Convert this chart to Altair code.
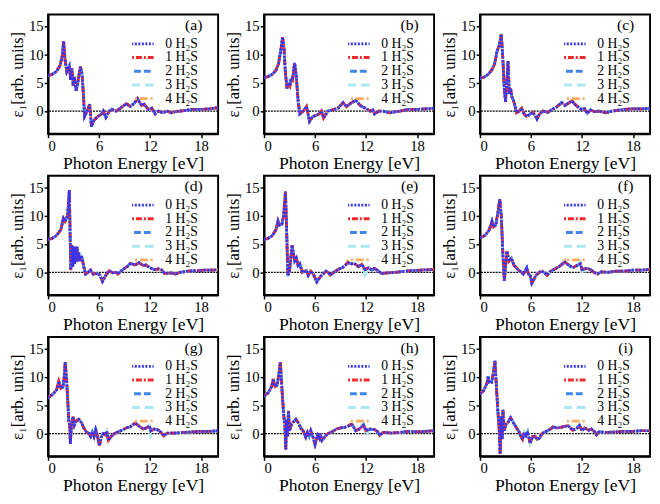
import altair as alt
import pandas as pd

SERIES = ["0 H₂S", "1 H₂S", "2 H₂S", "3 H₂S", "4 H₂S"]
COLORS = ["#3434f2", "#f42a2a", "#3f86e8", "#a9e7f2", "#ffab5e"]
DASHES = [[2, 1.6], [6, 2, 2, 2], [7, 3], [16, 5], [8, 3, 2, 3]]
LABELS = ["(a)", "(b)", "(c)", "(d)", "(e)", "(f)", "(g)", "(h)", "(i)"]
X_TICKS = [0, 6, 12, 18]
Y_TICKS = [0, 5, 10, 15]

E_A = [0, 0.5, 1.0, 1.4, 1.65, 1.83, 2.0, 2.2, 2.35, 2.5, 2.65, 2.8, 2.95, 3.1, 3.3, 3.5, 3.65, 3.8, 4.0, 4.15,
       4.3, 4.6, 4.9, 5.1, 5.4, 5.8, 6.3, 6.5, 6.8, 7.2, 7.5, 8.0, 8.5, 9.2, 9.7, 10.2, 10.5, 11.0, 11.3, 11.8,
       12.2, 12.6, 13.0, 13.5, 14.0, 14.5, 15.0, 16.0, 17.0, 18.0, 19.0, 20.0]
Y_A = [6.25, 6.5, 7.0, 8.0, 9.5, 12.3, 9.0, 7.0, 7.5, 8.0, 5.5, 7.5, 4.5, 6.0, 3.6, 5.0, 6.5, 7.8, 6.5, 3.0,
       -0.9, 0.0, 1.2, -2.7, -1.6, -1.0, -0.5, 0.0, -1.1, 0.0, 0.3, 0.0, 0.5, 1.3, 0.8, 1.5, 2.2, 1.0, 1.2, 0.3,
       0.5, -0.5, 0.0, -0.3, 0.0, -0.3, -0.1, 0.1, 0.3, 0.3, 0.4, 0.6]

E_B = [0, 0.5, 1.0, 1.4, 1.7, 1.95, 2.18, 2.35, 2.5, 2.7, 2.9, 3.05, 3.2, 3.35, 3.6, 3.8, 4.0, 4.2, 4.6, 5.0,
       5.35, 5.7, 6.0, 6.5, 6.75, 7.0, 7.5, 8.0, 8.7, 9.3, 9.7, 10.3, 10.8, 11.3, 11.8, 12.5, 12.8, 13.0, 13.5, 14.0,
       14.8, 15.5, 16.0, 17.0, 18.0, 19.0, 20.0]
Y_B = [5.9, 6.1, 6.5, 7.2, 8.3, 10.5, 13.0, 11.0, 7.0, 4.0, 5.0, 4.5, 5.8, 5.5, 8.5, 6.0, 2.0, -0.5, 0.0, 0.8,
       -1.8, -1.0, -0.8, -0.5, 0.0, -1.2, 0.0, 0.2, 0.5, 1.5, 0.8, 1.5, 1.9, 1.0, 0.6, 0.0, 0.2, -0.5, 0.0, 0.0,
       -0.3, -0.1, 0.0, 0.3, 0.3, 0.4, 0.5]

E_C = [0, 0.5, 1.0, 1.4, 1.7, 2.0, 2.25, 2.5, 2.7, 2.85, 3.0, 3.15, 3.3, 3.45, 3.6, 3.75, 3.9, 4.1, 4.3, 4.6,
       4.9, 5.2, 5.5, 5.9, 6.2, 6.5, 6.7, 7.0, 7.4, 8.0, 8.5, 9.0, 9.6, 10.0, 10.5, 10.8, 11.3, 11.9, 12.3, 12.6,
       13.0, 13.5, 14.0, 14.8, 15.5, 16.5, 17.0, 18.0, 19.0, 20.0]
Y_C = [5.8, 6.0, 6.5, 7.3, 8.2, 10.5, 11.5, 13.5, 9.0, 4.0, 1.6, 5.0, 8.8, 3.0, 4.0, 2.5, 2.0, 1.0, -0.3, 0.0,
       0.5, -0.5, -1.0, -0.5, -0.2, -0.8, -1.4, -0.5, 0.0, -0.2, 0.3, 0.7, 1.5, 1.0, 1.5, 1.8, 1.0, 0.3, 0.4, -0.4,
       0.2, -0.1, 0.0, -0.3, 0.0, 0.2, 0.3, 0.4, 0.4, 0.5]

E_D = [0, 0.5, 1.0, 1.5, 1.8, 2.0, 2.3, 2.5, 2.67, 2.8, 2.9, 3.0, 3.1, 3.2, 3.3, 3.4, 3.5, 3.6, 3.7, 3.85,
       4.0, 4.2, 4.4, 4.7, 5.0, 5.3, 5.8, 6.1, 6.4, 6.8, 7.2, 7.6, 8.0, 8.2, 8.8, 9.3, 9.7, 10.2, 10.7, 11.2,
       11.5, 12.0, 12.5, 13.0, 13.4, 13.7, 14.5, 15.0, 15.5, 16.5, 17.5, 18.5, 19.5, 20.0]
Y_D = [5.8, 6.0, 6.5, 7.5, 9.5, 9.0, 10.0, 14.5, 0.4, 4.8, 1.0, 4.5, 1.5, 4.5, 1.8, 4.5, 2.0, 3.5, 2.0, 3.0,
       2.5, 1.0, -0.3, 0.0, 0.4, -0.3, -0.2, -0.5, -1.6, -0.5, 0.3, -0.1, 0.0, -0.3, 0.5, 1.0, 1.6, 1.3, 1.7, 1.2,
       1.3, 0.8, 0.5, 0.6, 0.4, -0.2, -0.1, -0.3, 0.0, 0.2, 0.3, 0.4, 0.4, 0.5]

E_E = [0, 0.5, 1.0, 1.4, 1.64, 1.8, 2.1, 2.3, 2.52, 2.65, 2.8, 3.0, 3.3, 3.6, 3.8, 4.0, 4.2, 4.5, 5.0, 5.2,
       5.5, 5.8, 6.2, 6.6, 7.0, 7.3, 7.6, 7.8, 8.2, 8.7, 9.2, 9.6, 9.85, 10.3, 10.6, 11.1, 11.5, 11.9, 12.3, 12.7,
       13.0, 13.4, 13.8, 14.5, 15.5, 16.5, 17.5, 18.5, 20.0]
Y_E = [5.8, 6.0, 6.5, 7.5, 9.0, 8.3, 8.5, 10.0, 14.2, 8.0, -0.5, 0.3, 4.8, 2.0, 2.5, 1.2, 1.5, 0.0, 0.3, -0.5,
       0.2, -0.3, -1.7, -0.8, -0.2, 0.2, -0.1, -0.5, 0.0, 0.5, 0.8, 1.3, 1.7, 1.5, 1.6, 1.0, 1.4, 0.5, 0.8, 0.4,
       0.7, 0.3, -0.2, -0.1, 0.0, 0.2, 0.3, 0.4, 0.5]

E_F = [0, 0.6, 1.1, 1.41, 1.6, 1.85, 2.1, 2.33, 2.5, 2.7, 2.86, 3.0, 3.17, 3.4, 3.7, 4.0, 4.3, 4.6, 4.9, 5.1,
       5.5, 5.7, 5.9, 6.1, 6.6, 7.0, 7.2, 7.6, 7.9, 8.3, 8.8, 9.3, 9.7, 10.0, 10.4, 10.9, 11.4, 11.8, 12.0, 12.5,
       13.0, 13.4, 13.8, 14.3, 15.0, 16.0, 17.0, 18.0, 19.0, 20.0]
Y_F = [6.1, 6.5, 7.5, 9.0, 8.0, 8.3, 10.5, 12.9, 10.0, 3.0, -1.5, 1.0, 3.7, 2.0, 2.5, 1.2, 0.8, 0.3, 0.0, -0.3,
       0.8, -0.3, -0.5, -1.9, -0.5, 0.0, 0.3, -0.1, -0.5, 0.2, 0.6, 1.0, 1.5, 1.8, 1.3, 0.8, 1.2, 1.5, 0.5, 0.7,
       0.5, 0.0, -0.3, 0.1, 0.0, 0.2, 0.2, 0.4, 0.4, 0.5]

E_G = [0, 0.6, 1.0, 1.26, 1.5, 1.75, 1.9, 2.02, 2.2, 2.45, 2.55, 2.62, 2.75, 2.94, 3.1, 3.3, 3.6, 3.9, 4.2, 4.5,
       4.8, 5.0, 5.2, 5.4, 5.6, 5.8, 6.03, 6.3, 6.5, 6.7, 6.9, 7.1, 7.4, 7.8, 8.2, 8.7, 9.2, 9.7, 10.0, 10.3,
       10.8, 11.2, 11.6, 11.9, 12.1, 12.5, 13.0, 13.3, 13.6, 14.0, 15.0, 16.0, 17.0, 18.0, 19.0, 20.0]
Y_G = [6.3, 7.0, 7.7, 9.2, 8.0, 8.2, 10.0, 12.6, 9.0, 2.0, 1.5, -1.8, 1.5, 3.0, 1.5, 2.2, 2.5, 2.0, 1.0, 0.3,
       0.0, -0.5, 0.3, -0.5, 0.7, -0.3, -2.1, -0.5, 0.0, -0.2, 0.4, -1.2, -0.5, 0.0, 0.3, 0.6, 1.0, 1.2, 1.6, 1.8,
       1.2, 0.8, 1.0, 1.4, 0.5, 0.8, 0.6, 0.2, -0.4, 0.1, 0.1, 0.2, 0.3, 0.4, 0.4, 0.5]

E_H = [0, 0.5, 0.9, 1.07, 1.3, 1.55, 1.75, 1.92, 2.1, 2.3, 2.45, 2.56, 2.65, 2.75, 2.88, 3.0, 3.2, 3.4, 3.75, 4.1,
       4.3, 4.6, 4.9, 5.1, 5.3, 5.5, 5.7, 6.0, 6.3, 6.5, 6.6, 6.8, 7.2, 7.5, 8.0, 8.5, 9.0, 9.5, 10.0, 10.25,
       10.4, 10.8, 11.2, 11.7, 12.0, 12.4, 13.0, 13.4, 13.6, 14.0, 15.0, 16.0, 17.0, 18.0, 19.0, 20.0]
Y_H = [6.6, 7.2, 8.3, 9.6, 8.3, 8.5, 10.5, 12.6, 8.0, 3.5, 1.5, -2.8, 2.5, -0.5, 4.0, 0.5, 1.5, 2.0, 2.5, 1.8,
       1.0, 0.5, -0.6, 0.2, -0.5, 0.5, -0.3, -1.9, -0.3, -0.8, 0.0, -1.2, -0.5, 0.0, 0.3, 0.8, 1.0, 1.1, 1.4, 1.6,
       1.5, 0.5, 0.8, 1.5, 0.5, 0.8, 0.7, 0.3, -0.3, 0.2, 0.1, 0.2, 0.4, 0.3, 0.4, 0.5]

E_I = [0, 0.4, 0.8, 0.95, 1.1, 1.35, 1.5, 1.76, 1.9, 2.1, 2.25, 2.37, 2.5, 2.6, 2.7, 2.85, 3.0, 3.3, 3.6, 3.9,
       4.3, 4.6, 4.8, 5.0, 5.2, 5.4, 5.6, 5.9, 6.2, 6.5, 6.7, 7.0, 7.3, 7.8, 8.3, 8.6, 9.0, 9.5, 10.0, 10.3,
       10.5, 10.9, 11.3, 11.7, 12.0, 12.3, 12.8, 13.1, 13.5, 13.7, 14.0, 15.0, 16.0, 17.0, 18.0, 19.0, 20.0]
Y_I = [7.0, 7.5, 8.8, 10.1, 9.0, 9.0, 10.0, 12.8, 9.0, 4.0, 1.0, -3.6, 3.0, -1.0, 4.2, 0.5, 1.5, 2.0, 2.8, 2.0,
       1.0, 0.3, -0.5, -1.0, 0.2, -0.3, 0.3, -1.7, -0.5, -0.5, -1.0, -0.8, 0.0, 0.4, 0.8, 1.2, 1.0, 1.1, 1.3, 1.4,
       1.2, 0.6, 0.8, 1.4, 0.5, 1.0, 0.6, 0.8, 0.3, -0.2, 0.3, 0.2, 0.3, 0.4, 0.4, 0.5, 0.5]

# values that differ from the shared curve for a given series (series index -> {energy: value})
OVERRIDES = {
    "(c)": {3: {2.5: 13.7}},
    "(e)": {3: {2.8: -0.8, 11.9: -0.4}, 4: {9.85: 2.0}},
    "(f)": {3: {11.8: 1.9, 12.0: -0.4}, 4: {10.0: 2.1}},
    "(g)": {3: {12.1: -0.4}, 4: {3.6: 2.8, 10.0: 2.0}},
    "(h)": {3: {11.7: 1.9, 12.0: -0.4}, 4: {10.25: 2.1}},
    "(i)": {1: {0.95: 9.3}, 3: {11.7: 1.6}, 4: {10.3: 1.7}},
}

CURVES = [(E_A, Y_A), (E_B, Y_B), (E_C, Y_C), (E_D, Y_D), (E_E, Y_E),
          (E_F, Y_F), (E_G, Y_G), (E_H, Y_H), (E_I, Y_I)]

FONT = "Liberation Serif, Times New Roman, Times, serif"
W, H = 174, 122

AXIS_STYLE = dict(grid=False, domainColor="black", domainWidth=2, tickColor="black", tickWidth=1.5,
                  tickSize=4, labelFont=FONT, labelFontSize=15, labelColor="black", labelPadding=1,
                  titleFont=FONT, titleFontWeight="normal", titleColor="black")


def panel(label, E, Y):
    ov = OVERRIDES.get(label, {})
    rows = []
    for si, s in enumerate(SERIES):
        o = ov.get(si, {})
        for e, y in zip(E, Y):
            rows.append({"E": e, "eps": o.get(e, y), "series": s})
    df = pd.DataFrame(rows)

    x = alt.X("E:Q", scale=alt.Scale(domain=[0, 20], nice=False),
              axis=alt.Axis(values=X_TICKS, title="Photon Energy [eV]", titleFontSize=18,
                            titlePadding=1, **AXIS_STYLE))
    y = alt.Y("eps:Q", scale=alt.Scale(domain=[-4, 17], nice=False),
              axis=alt.Axis(values=Y_TICKS, title="ε₁[arb. units]", titleFontSize=17,
                            titlePadding=2, **AXIS_STYLE))
    color = alt.Color("series:N", scale=alt.Scale(domain=SERIES, range=COLORS),
                      legend=alt.Legend(title=None, orient="none", legendX=86, legendY=23,
                                        symbolType="M-3,0H3", symbolSize=100, symbolStrokeWidth=3,
                                        labelOffset=20, rowPadding=0, clipHeight=14, padding=0,
                                        labelFont=FONT, labelFontSize=14, labelColor="black"))
    dash = alt.StrokeDash("series:N", scale=alt.Scale(domain=SERIES, range=DASHES), legend=None)

    layers = []
    zero = alt.Chart(pd.DataFrame({"z": [0]})).mark_rule(
        color="black", strokeWidth=1.4, strokeDash=[2, 1]).encode(y=alt.Y("z:Q"))
    layers.append(zero)
    for s in reversed(SERIES):
        layers.append(
            alt.Chart(df[df.series == s]).mark_line(strokeWidth=2.8, clip=True).encode(
                x=x, y=y, color=color, strokeDash=dash)
        )
    tag = alt.Chart(pd.DataFrame({"t": [label]})).mark_text(
        font=FONT, fontSize=16, color="black", align="center", baseline="middle").encode(
        x=alt.value(149), y=alt.value(11), text="t:N")
    layers.append(tag)
    return alt.layer(*layers).properties(width=W, height=H)


panels = [panel(l, e, y) for l, (e, y) in zip(LABELS, CURVES)]
rows = [alt.hconcat(*panels[i * 3:(i + 1) * 3], spacing=4).resolve_scale(
    color="independent", strokeDash="independent").resolve_legend(color="independent")
        for i in range(3)]
chart = alt.vconcat(*rows, spacing=2).resolve_scale(
    color="independent", strokeDash="independent").resolve_legend(color="independent").properties(
    padding=0
).configure_view(stroke="black", strokeWidth=2)

chart.save("out.html", embed_options={"renderer": "svg", "actions": False})
